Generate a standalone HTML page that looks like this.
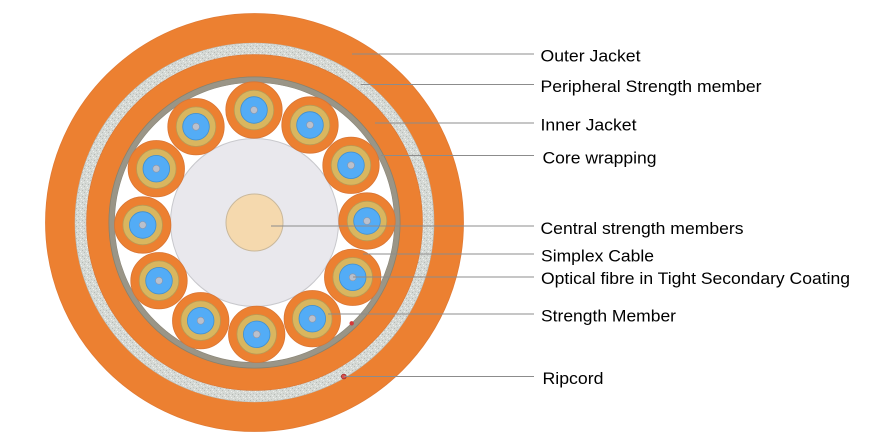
<!DOCTYPE html>
<html>
<head>
<meta charset="utf-8">
<style>
  html, body { margin: 0; padding: 0; background: #ffffff; }
  body { width: 892px; height: 444px; overflow: hidden; }
  svg { display: block; }
  text { font-family: "Liberation Sans", Arial, sans-serif; font-size: 17px; fill: #000000; }
</style>
</head>
<body>
<svg width="892" height="444" viewBox="0 0 892 444" xmlns="http://www.w3.org/2000/svg">
  <defs>
    <pattern id="speck" width="6" height="6" patternUnits="userSpaceOnUse">
      <rect width="6" height="6" fill="#d5d9d5"/>
      <rect x="0" y="0" width="1" height="1" fill="#b9bdb9"/>
      <rect x="3" y="1" width="1" height="1" fill="#eef0ee"/>
      <rect x="1" y="3" width="1" height="1" fill="#c2c6c2"/>
      <rect x="4" y="4" width="1" height="1" fill="#b5b9b5"/>
      <rect x="5" y="2" width="1" height="1" fill="#e8ebe8"/>
      <rect x="2" y="5" width="1" height="1" fill="#eceeec"/>
    </pattern>
    <g id="cable">
      <circle r="28.2" fill="#ec8031" stroke="#d97534" stroke-width="0.8"/>
      <circle r="19.8" fill="#d9b65f" stroke="#b89a55" stroke-width="0.8"/>
      <circle r="13.3" fill="#53acf6" stroke="#3f8fd0" stroke-width="0.8"/>
      <circle r="3.5" fill="#bac0cc" stroke="#8f95a5" stroke-width="0.6"/>
    </g>
  </defs>

  <!-- Outer jacket -->
  <circle cx="254.5" cy="222.5" r="209" fill="#ec8031" stroke="#e07a34" stroke-width="0.8"/>
  <!-- Peripheral strength member -->
  <circle cx="254.5" cy="222.5" r="179.5" fill="url(#speck)" stroke="#b8bcb8" stroke-width="0.6"/>
  <!-- Inner jacket -->
  <circle cx="254.5" cy="222.5" r="168" fill="#ec8031" stroke="#d97534" stroke-width="0.6"/>
  <!-- Core wrapping -->
  <circle cx="254.5" cy="222.5" r="145.6" fill="#9a9587" stroke="#86826f" stroke-width="0.8"/>
  <circle cx="254.5" cy="222.5" r="140" fill="#ffffff" stroke="#8a8678" stroke-width="0.6"/>

  <!-- Central disk -->
  <circle cx="254.5" cy="222.5" r="84" fill="#e9e8ed" stroke="#c8c8cc" stroke-width="1"/>
  <!-- Central strength member -->
  <circle cx="254.5" cy="222.5" r="28.5" fill="#f5d9ae" stroke="#c9b89c" stroke-width="1"/>

  <!-- Simplex cables -->
  <use href="#cable" x="254" y="110"/>
  <use href="#cable" x="310" y="125"/>
  <use href="#cable" x="351" y="165.3"/>
  <use href="#cable" x="367" y="221"/>
  <use href="#cable" x="352.7" y="277.3"/>
  <use href="#cable" x="312.3" y="318.7"/>
  <use href="#cable" x="256.7" y="334.3"/>
  <use href="#cable" x="200.7" y="320.7"/>
  <use href="#cable" x="159" y="280.7"/>
  <use href="#cable" x="142.7" y="225"/>
  <use href="#cable" x="156.3" y="168.7"/>
  <use href="#cable" x="196" y="126.7"/>

  <!-- red dots -->
  <circle cx="351.7" cy="323.3" r="2.2" fill="#d43a3a"/>
  <circle cx="343.8" cy="376.5" r="2.4" fill="#d85050" stroke="#9a2a2a" stroke-width="0.8"/>

  <!-- leader lines -->
  <g stroke="#8c8c8c" stroke-width="1" fill="none">
    <line x1="352" y1="54" x2="534" y2="54"/>
    <line x1="361" y1="84.5" x2="534" y2="84.5"/>
    <line x1="375" y1="123" x2="534" y2="123"/>
    <line x1="381" y1="155.5" x2="534" y2="155.5"/>
    <line x1="271" y1="226" x2="534" y2="226"/>
    <line x1="363" y1="254" x2="534" y2="254"/>
    <line x1="353" y1="277" x2="534" y2="277"/>
    <line x1="328" y1="314" x2="534" y2="314"/>
    <line x1="344" y1="376.5" x2="534" y2="376.5"/>
  </g>

  <!-- labels -->
  <text x="540.5" y="61.5" textLength="100" lengthAdjust="spacingAndGlyphs">Outer Jacket</text>
  <text x="540.5" y="92" textLength="221" lengthAdjust="spacingAndGlyphs">Peripheral Strength member</text>
  <text x="540.5" y="130.5" textLength="96" lengthAdjust="spacingAndGlyphs">Inner Jacket</text>
  <text x="542.5" y="163.5" textLength="114" lengthAdjust="spacingAndGlyphs">Core wrapping</text>
  <text x="540.5" y="234" textLength="203" lengthAdjust="spacingAndGlyphs">Central strength members</text>
  <text x="541" y="261.5" textLength="113" lengthAdjust="spacingAndGlyphs">Simplex Cable</text>
  <text x="541" y="284" textLength="309" lengthAdjust="spacingAndGlyphs">Optical fibre in Tight Secondary Coating</text>
  <text x="541" y="321.5" textLength="135" lengthAdjust="spacingAndGlyphs">Strength Member</text>
  <text x="542.5" y="384" textLength="61" lengthAdjust="spacingAndGlyphs">Ripcord</text>
</svg>
</body>
</html>
